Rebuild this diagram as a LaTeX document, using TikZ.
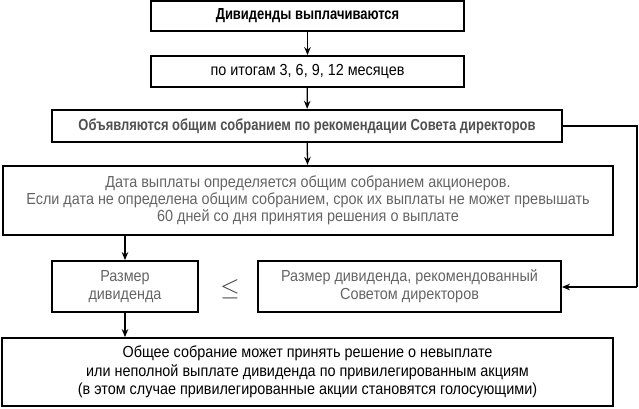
\documentclass[tikz,border=0pt]{standalone}
\usepackage{fontspec}
\setmainfont{Liberation Sans}[FakeStretch=0.90, BoldFeatures={FakeStretch=0.81}]
\usetikzlibrary{arrows.meta}
\definecolor{txtgray}{RGB}{100,100,100}
\definecolor{txtdark}{RGB}{80,80,80}
\tikzset{
  box/.style={draw=black, line width=1.8pt, inner sep=0pt, align=center, font=\fontsize{16}{17}\selectfont},
  arr/.style={line width=1.3pt, -{Stealth[length=8pt,width=6.5pt]}},
  con/.style={line width=1.3pt},
}
\begin{document}
\begin{tikzpicture}[x=1pt,y=-1pt]
\useasboundingbox (0,0) rectangle (639,409);
\node[box, minimum width=313pt, minimum height=30pt, font=\fontsize{16}{17}\selectfont\bfseries] (b1) at (307.5,16) {Дивиденды выплачиваются};
\node[box, minimum width=313pt, minimum height=31pt] (b2) at (307.5,71.5) {по итогам 3, 6, 9, 12 месяцев};
\node[box, minimum width=510pt, minimum height=32pt, line width=2.4pt, text=txtdark, font=\fontsize{16}{17}\selectfont\bfseries] (b3) at (307,126) {Объявляются общим собранием по рекомендации Совета директоров};
\node[box, minimum width=610pt, minimum height=69pt, line width=2.2pt, text=txtgray] (b4) at (308,200.5) {Дата выплаты определяется общим собранием акционеров.\\Если дата не определена общим собранием, срок их выплаты не может превышать\\60 дней со дня принятия решения о выплате};
\node[box, minimum width=146pt, minimum height=51pt, text=txtgray, font=\fontsize{16}{18}\selectfont] (b5) at (125,286.5) {Размер\\дивиденда};
\node[box, minimum width=303pt, minimum height=51pt, text=txtgray, font=\fontsize{16}{18}\selectfont] (b6) at (409.5,286.5) {Размер дивиденда, рекомендованный\\Советом директоров};
\node[box, minimum width=611pt, minimum height=68pt, font=\fontsize{16}{18.5}\selectfont] (b7) at (307.5,372) {Общее собрание может принять решение о невыплате\\или неполной выплате дивиденда по привилегированным акциям\\(в этом случае привилегированные акции становятся голосующими)};
\node[inner sep=0pt, text=black!75, font=\fontsize{28}{28}\selectfont] (le) at (230,289) {$\leq$};
\coordinate (c1) at (637,126);
\coordinate (c2) at (637,287);
\draw[arr] (b1) -- (b2);
\draw[arr] (b2) -- (b3);
\draw[arr] (b3) -- (b4);
\draw[arr] (b4.south -| b5) -- (b5);
\draw[arr] (b5) -- (b7.north -| b5);
\draw[con] (b3.east) -- (c1) -- (c2);
\draw[arr] (c2) -- (b6.east |- c2);
\end{tikzpicture}
\end{document}
